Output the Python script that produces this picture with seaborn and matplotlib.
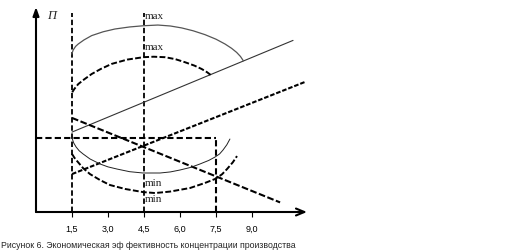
import matplotlib
matplotlib.use("Agg")
import matplotlib.pyplot as plt
import seaborn as sns

# ---- data ----
tick_values = [1.5, 3.0, 4.5, 6.0, 7.5, 9.0]
tick_labels = ["1,5", "3,0", "4,5", "6,0", "7,5", "9,0"]

vline_x = [1.5, 4.5]
vline_top = 8.29
vline75_x = 7.5
hline_y = 3.083

solid_up_x = [1.5, 10.71]
solid_up_y = [3.33, 7.15]

dashed_up_x = [1.5, 11.21]
dashed_up_y = [1.58, 5.42]

dashed_down_x = [1.5, 10.17]
dashed_down_y = [3.92, 0.40]

max_solid_x = [1.49, 1.55, 1.65, 1.76, 2.0, 2.32, 2.8, 3.29, 3.9, 4.47, 5.08,
               5.6, 6.07, 6.55, 7.04, 7.5, 7.875, 8.15, 8.36, 8.52, 8.64]
max_solid_y = [6.58, 6.75, 6.9, 7.0, 7.17, 7.35, 7.51, 7.625, 7.71, 7.76, 7.79,
               7.75, 7.67, 7.55, 7.39, 7.2, 7.0, 6.82, 6.65, 6.48, 6.30]

max_dashed_x = [1.51, 1.6, 1.76, 2.0, 2.32, 2.7, 3.15, 3.8, 4.47, 4.9, 5.375,
                5.8, 6.21, 6.6, 6.90, 7.12, 7.32]
max_dashed_y = [4.99, 5.13, 5.33, 5.52, 5.75, 5.96, 6.17, 6.35, 6.45, 6.47, 6.45,
                6.37, 6.24, 6.1, 5.96, 5.83, 5.68]

min_solid_x = [1.5, 1.57, 1.67, 1.8, 1.96, 2.25, 2.67, 3.0, 3.375, 3.9, 4.46,
               5.17, 5.6, 6.0, 6.45, 6.83, 7.2, 7.46, 7.65, 7.79, 7.95, 8.08]
min_solid_y = [3.083, 2.88, 2.71, 2.55, 2.42, 2.21, 2.0, 1.88, 1.79, 1.68, 1.625,
               1.625, 1.67, 1.75, 1.86, 2.0, 2.15, 2.29, 2.42, 2.58, 2.8, 3.04]

min_dashed_x = [1.5, 1.6, 1.71, 1.96, 2.25, 2.67, 3.08, 3.71, 4.46, 4.96, 5.58,
                6.42, 7.04, 7.46, 7.75, 7.96, 8.2, 8.375]
min_dashed_y = [2.42, 2.26, 2.125, 1.83, 1.58, 1.33, 1.125, 0.96, 0.83, 0.79, 0.85,
                1.0, 1.21, 1.375, 1.57, 1.79, 2.07, 2.33]

labels_text = ["max", "max", "min", "min"]
labels_y = [8.17, 6.875, 1.21, 0.58]
labels_x = 4.54

caption = "Рисунок 6. Экономическая эф фективность концентрации производства"

# ---- figure ----
sns.set_style("white")
plt.rcParams['font.family'] = ['Liberation Sans', 'DejaVu Sans']

W, H = 518, 251
fig = plt.figure(figsize=(W / 100, H / 100), dpi=100)
ax = fig.add_axes([36 / W, 38 / H, 282 / W, 213 / H])
ax.set_xlim(0, 282 / 24)
ax.set_ylim(0, 213 / 24)
for s in ax.spines.values():
    s.set_visible(False)
ax.patch.set_alpha(0)

def line(x, y, color="black", lw=1.3, ls="-"):
    sns.lineplot(x=x, y=y, ax=ax, color=color, lw=lw, linestyle=ls,
                 estimator=None, sort=False, legend=False)

vdash = (0, (3.0, 1.5))
# vertical and horizontal dashed guides
for vx in vline_x:
    line([vx, vx], [0, vline_top], lw=1.3, ls=vdash)
line([vline75_x, vline75_x], [0, hline_y], lw=1.5, ls=vdash)
line([0, vline75_x], [hline_y, hline_y], lw=1.5, ls=vdash)

# straight lines
line(solid_up_x, solid_up_y, color="#333333", lw=0.8)
line(dashed_up_x, dashed_up_y, lw=1.5, ls=(0, (2.2, 0.9)))
line(dashed_down_x, dashed_down_y, lw=1.5, ls=(0, (3.2, 1.2)))

# arcs
line(max_solid_x, max_solid_y, color="#555555", lw=0.9)
line(max_dashed_x, max_dashed_y, lw=1.4, ls=(0, (3.0, 1.2)))
line(min_solid_x, min_solid_y, color="#222222", lw=0.7)
line(min_dashed_x, min_dashed_y, lw=1.4, ls=(0, (3.0, 1.2)))

for t, ty in zip(labels_text, labels_y):
    ax.text(labels_x, ty, t, family="Liberation Serif", fontsize=8,
            ha="left", va="center", color="#222222")

# axes with arrows
ax.annotate("", xy=(271 / 24, 0), xytext=(0, 0), annotation_clip=False,
            arrowprops=dict(arrowstyle="->,head_length=0.6,head_width=0.25",
                            lw=1.5, color="black", shrinkA=0, shrinkB=0))
ax.annotate("", xy=(0, 205 / 24), xytext=(0, 0), annotation_clip=False,
            arrowprops=dict(arrowstyle="-|>,head_length=0.5,head_width=0.18",
                            lw=1.5, color="black", shrinkA=0, shrinkB=0))
ax.text(0.45, 8.2, "П", family="Liberation Serif", style="italic",
        fontsize=9, ha="left", va="center")

ax.set_xticks(tick_values)
ax.set_xticklabels(tick_labels, fontsize=6.5)
ax.set_yticks([])
ax.tick_params(axis="x", direction="out", length=3.5, width=0.8, pad=5,
               bottom=True, colors="black")

fig.text(1 / W, 1 - 246 / H, caption, fontsize=6.35, ha="left", va="center")

fig.savefig("out.png", dpi=100)
